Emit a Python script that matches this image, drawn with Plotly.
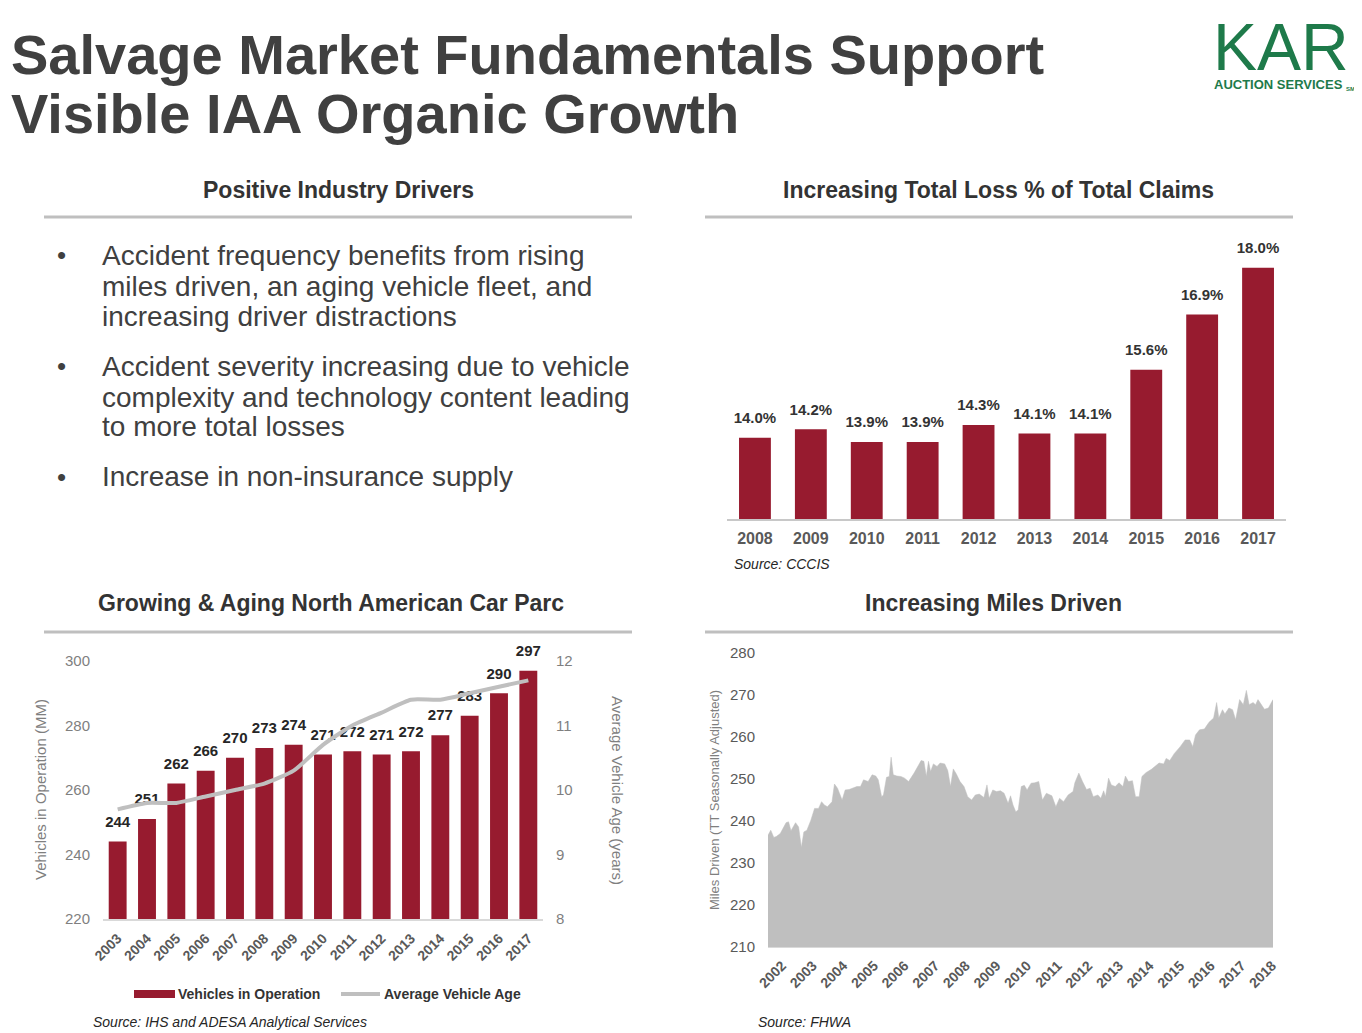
import plotly.graph_objects as go

# The page body adds an 8px offset; the figure is sized so that the
# reference's 1362x1033 canvas maps onto the browser window.
OFF = 8
W, H = 1362 - OFF, 1033 - OFF
def px(x): return (x - OFF) / W
def py(y): return 1 - (y - OFF) / H

FONT = "Liberation Sans, Arial, sans-serif"
RED = "#971B2F"
LGRAY = "#BFBFBF"
DARK = "#333333"
TICKGRAY = "#595959"
AXGRAY = "#7F7F7F"

# ---------------- data ----------------
loss_years = ["2008", "2009", "2010", "2011", "2012", "2013", "2014", "2015", "2016", "2017"]
loss_pct = [14.0, 14.2, 13.9, 13.9, 14.3, 14.1, 14.1, 15.6, 16.9, 18.0]

parc_years = ["2003", "2004", "2005", "2006", "2007", "2008", "2009", "2010",
              "2011", "2012", "2013", "2014", "2015", "2016", "2017"]
vio_mm = [244, 251, 262, 266, 270, 273, 274, 271, 272, 271, 272, 277, 283, 290, 297]
avg_age = [9.7, 9.8, 9.8, 9.9, 10.0, 10.1, 10.3, 10.7, 11.0, 11.2, 11.4, 11.4, 11.5, 11.6, 11.7]

miles_t = [2001.54, 2001.63, 2001.73, 2001.81, 2001.94, 2002.00, 2002.13, 2002.21, 2002.29, 2002.44,
           2002.54, 2002.63, 2002.71, 2002.81, 2002.94, 2003.06, 2003.19, 2003.29, 2003.38, 2003.48,
           2003.63, 2003.71, 2003.81, 2003.96, 2004.06, 2004.19, 2004.31, 2004.44, 2004.56, 2004.66,
           2004.81, 2004.94, 2005.06, 2005.14, 2005.25, 2005.31, 2005.41, 2005.50, 2005.56, 2005.63,
           2005.75, 2005.88, 2006.00, 2006.13, 2006.31, 2006.44, 2006.54, 2006.63, 2006.71, 2006.78,
           2006.85, 2006.94, 2007.06, 2007.16, 2007.31, 2007.41, 2007.50, 2007.59, 2007.69, 2007.81,
           2007.94, 2008.06, 2008.19, 2008.31, 2008.44, 2008.59, 2008.69, 2008.76, 2008.88, 2009.00,
           2009.13, 2009.25, 2009.38, 2009.46, 2009.54, 2009.63, 2009.71, 2009.81, 2009.91, 2010.00,
           2010.13, 2010.25, 2010.38, 2010.50, 2010.63, 2010.81, 2010.94, 2011.06, 2011.19, 2011.34,
           2011.50, 2011.56, 2011.69, 2011.81, 2011.94, 2012.06, 2012.16, 2012.31, 2012.41, 2012.50,
           2012.56, 2012.66, 2012.75, 2012.88, 2013.00, 2013.13, 2013.21, 2013.31, 2013.44, 2013.54,
           2013.66, 2013.75, 2013.88, 2014.06, 2014.19, 2014.31, 2014.46, 2014.54, 2014.66, 2014.81,
           2015.00, 2015.16, 2015.31, 2015.41, 2015.50, 2015.63, 2015.79, 2015.94, 2016.09, 2016.19,
           2016.26, 2016.38, 2016.46, 2016.59, 2016.71, 2016.81, 2016.94, 2017.06, 2017.16, 2017.25,
           2017.38, 2017.46, 2017.54, 2017.64, 2017.75, 2017.88, 2018.03]
miles_v = [236.6, 237.8, 236.1, 236.3, 237.0, 237.8, 239.6, 239.8, 237.7, 239.6,
           238.6, 233.7, 237.4, 237.8, 240.2, 243.0, 243.0, 244.6, 243.8, 243.4,
           244.6, 248.8, 247.8, 245.0, 247.4, 247.5, 247.9, 248.2, 248.2, 249.8,
           249.4, 251.0, 250.7, 249.8, 245.8, 246.2, 250.4, 250.6, 255.2, 251.0,
           250.7, 250.6, 250.2, 249.4, 251.4, 253.0, 254.4, 254.2, 250.6, 254.2,
           251.8, 253.6, 253.0, 253.8, 253.6, 252.0, 248.2, 252.4, 251.2, 249.4,
           248.2, 245.8, 245.0, 246.2, 246.4, 245.6, 248.6, 245.4, 247.4, 247.0,
           247.2, 246.6, 244.2, 246.0, 243.8, 242.2, 242.6, 248.2, 248.5, 247.4,
           249.0, 249.1, 249.4, 245.0, 246.6, 246.0, 243.4, 245.4, 244.6, 246.2,
           247.0, 249.1, 251.4, 249.4, 247.5, 247.8, 245.8, 246.2, 245.4, 247.2,
           245.8, 250.2, 248.6, 248.2, 249.1, 248.2, 250.7, 249.4, 249.6, 245.8,
           245.8, 250.6, 251.5, 252.3, 253.0, 253.8, 253.6, 254.9, 254.4, 256.1,
           257.7, 259.3, 259.3, 257.7, 260.5, 261.7, 261.9, 263.5, 264.5, 268.2,
           264.5, 266.5, 265.5, 266.9, 266.5, 264.1, 268.9, 267.7, 271.1, 267.7,
           268.2, 267.7, 268.9, 267.7, 266.6, 266.9, 268.9]
miles_ticks = [2002, 2003, 2004, 2005, 2006, 2007, 2008, 2009, 2010,
               2011, 2012, 2013, 2014, 2015, 2016, 2017, 2018]

bullets = [
    ["Accident frequency benefits from rising",
     "miles driven, an aging vehicle fleet, and",
     "increasing driver distractions"],
    ["Accident severity increasing due to vehicle",
     "complexity and technology content leading",
     "to more total losses"],
    ["Increase in non-insurance supply"],
]

# ---------------- figure ----------------
fig = go.Figure()

# Top-right: total loss %
fig.add_trace(go.Bar(
    x=loss_years, y=loss_pct, xaxis="x", yaxis="y",
    marker=dict(color=RED, line=dict(width=0)), width=0.57,
    showlegend=False, hoverinfo="x+y"))
fig.add_trace(go.Scatter(
    x=loss_years, y=loss_pct, xaxis="x", yaxis="y", mode="markers+text",
    marker=dict(size=16, color="rgba(0,0,0,0)"),
    text=[f"{v:.1f}%" for v in loss_pct], textposition="top center",
    textfont=dict(family=FONT, size=15, color=DARK, weight="bold"),
    cliponaxis=False, showlegend=False, hoverinfo="skip"))

# Bottom-left: vehicles in operation + age
fig.add_trace(go.Bar(
    x=parc_years, y=vio_mm, xaxis="x2", yaxis="y2",
    marker=dict(color=RED, line=dict(width=0)), width=0.61,
    showlegend=False))
fig.add_trace(go.Scatter(
    x=parc_years, y=avg_age, xaxis="x2", yaxis="y3", mode="lines",
    line=dict(color=LGRAY, width=4, shape="spline", smoothing=0.6),
    showlegend=False))
fig.add_trace(go.Scatter(
    x=parc_years, y=vio_mm, xaxis="x2", yaxis="y2", mode="markers+text",
    marker=dict(size=16, color="rgba(0,0,0,0)"),
    text=[str(v) for v in vio_mm], textposition="top center",
    textfont=dict(family=FONT, size=15, color="#262626", weight="bold"),
    cliponaxis=False, showlegend=False, hoverinfo="skip"))

# Bottom-right: miles driven
fig.add_trace(go.Scatter(
    x=miles_t, y=miles_v, xaxis="x4", yaxis="y4", mode="lines",
    line=dict(color=LGRAY, width=0.5), fill="tozeroy", fillcolor=LGRAY,
    showlegend=False))

fig.update_layout(
    template="none",
    width=W, height=H, margin=dict(l=0, r=0, t=0, b=0, pad=0, autoexpand=False),
    paper_bgcolor="white", plot_bgcolor="rgba(0,0,0,0)",
    font=dict(family=FONT, color=DARK),
    showlegend=False,
    xaxis=dict(domain=[px(727), px(1286)], anchor="y", type="category", automargin=False,
               range=[-0.5, len(loss_years) - 0.5],
               showline=True, linecolor="#C8C8C8", linewidth=2, ticks="",
               showgrid=False, ticklabelstandoff=4,
               tickfont=dict(family=FONT, size=16, color=TICKGRAY, weight="bold")),
    yaxis=dict(domain=[py(519), py(240)], anchor="x", range=[12.09, 18.65],
               visible=False, automargin=False),
    xaxis2=dict(domain=[px(103), px(543)], anchor="y2", type="category", automargin=False,
                range=[-0.5, len(parc_years) - 0.5],
                showline=True, linecolor="#D9D9D9", linewidth=1.5, ticks="",
                showgrid=False, tickangle=-45, ticklabelstandoff=4,
                tickfont=dict(family=FONT, size=14, color=TICKGRAY, weight="bold")),
    yaxis2=dict(domain=[py(919), py(661)], anchor="x2", range=[220, 300], dtick=20,
                showgrid=False, zeroline=False, showline=False, ticks="", automargin=False,
                ticklabelstandoff=12,
                tickfont=dict(family=FONT, size=15, color=AXGRAY)),
    yaxis3=dict(domain=[py(919), py(661)], anchor="x2", overlaying="y2", side="right",
                range=[8, 12], dtick=1, showgrid=False, zeroline=False, showline=False,
                ticks="", ticklabelstandoff=12, automargin=False,
                tickfont=dict(family=FONT, size=15, color=AXGRAY)),
    xaxis4=dict(domain=[px(768), px(1273)], anchor="y4", range=[2001.54, 2018.03],
                tickvals=miles_ticks, ticktext=[str(t) for t in miles_ticks],
                showline=True, linecolor="#D9D9D9", linewidth=1, ticks="", automargin=False,
                showgrid=False, zeroline=False, tickangle=-45, ticklabelstandoff=4,
                tickfont=dict(family=FONT, size=14, color=TICKGRAY, weight="bold")),
    yaxis4=dict(domain=[py(947), py(653)], anchor="x4", range=[210, 280], dtick=10,
                showgrid=False, zeroline=False, showline=False, ticks="", automargin=False,
                ticklabelstandoff=12,
                tickfont=dict(family=FONT, size=15, color=TICKGRAY)),
)

annotations = []
def ann(text, x, y, size, color=DARK, xanchor="left", yanchor="middle", angle=0,
        weight="normal", style="normal"):
    annotations.append(dict(
        text=text, x=px(x), y=py(y), xref="paper", yref="paper",
        xanchor=xanchor, yanchor=yanchor, showarrow=False, textangle=angle,
        font=dict(family=FONT, size=size, color=color, weight=weight, style=style)))

# Title
ann("Salvage Market Fundamentals Support", 9, 54, 56, "#404040", weight="bold")
ann("Visible IAA Organic Growth", 9, 114, 56, "#404040", weight="bold")

# Logo
ann("KAR", 1281, 8, 66, "#1E7A4A", xanchor="center", yanchor="top")
ann("AUCTION SERVICES", 1212, 85, 13, "#1E7A4A", weight="bold")
ann("SM", 1344, 89, 6, "#1E7A4A", weight="bold")

# Section headers
ann("Positive Industry Drivers", 338, 190, 23, DARK, xanchor="center", weight="bold")
ann("Increasing Total Loss % of Total Claims", 998, 190, 23, DARK, xanchor="center", weight="bold")
ann("Growing &amp; Aging North American Car Parc", 331, 603, 23, DARK, xanchor="center", weight="bold")
ann("Increasing Miles Driven", 993, 603, 23, DARK, xanchor="center", weight="bold")

# Bullets
line_y = [[255, 286, 316], [366, 397, 427], [477]]
for lines, ys in zip(bullets, line_y):
    ann("•", 55, ys[0], 26, "#404040")
    for t, yy in zip(lines, ys):
        ann(t, 100, yy, 28, "#404040")

# Sources
ann("Source: CCCIS", 732, 564, 14, "#262626", style="italic")
ann("Source: IHS and ADESA Analytical Services", 91, 1022, 14, "#262626", style="italic")
ann("Source: FHWA", 756, 1022, 14, "#262626", style="italic")

# Axis titles
ann("Vehicles in Operation (MM)", 40, 790, 15, AXGRAY, xanchor="center", angle=-90)
ann("Average Vehicle Age (years)", 618, 790, 15, AXGRAY, xanchor="center", angle=90)
ann("Miles Driven (TT Seasonally Adjusted)", 714, 800, 13, AXGRAY, xanchor="center", angle=-90)

# Legend text
ann("Vehicles in Operation", 176, 994, 14, DARK, weight="bold")
ann("Average Vehicle Age", 382, 994, 14, DARK, weight="bold")

fig.update_layout(annotations=annotations)

shapes = []
for x0, x1, y in [(44, 632, 217), (705, 1293, 217), (44, 632, 632), (705, 1293, 632)]:
    shapes.append(dict(type="line", xref="paper", yref="paper",
                       x0=px(x0), x1=px(x1), y0=py(y), y1=py(y),
                       line=dict(color=LGRAY, width=3)))
# legend swatches
shapes.append(dict(type="rect", xref="paper", yref="paper",
                   x0=px(134), x1=px(175), y0=py(998), y1=py(990),
                   fillcolor=RED, line=dict(width=0)))
shapes.append(dict(type="line", xref="paper", yref="paper",
                   x0=px(341), x1=px(380), y0=py(994), y1=py(994),
                   line=dict(color=LGRAY, width=4)))
fig.update_layout(shapes=shapes)

fig.write_html("out.html")
